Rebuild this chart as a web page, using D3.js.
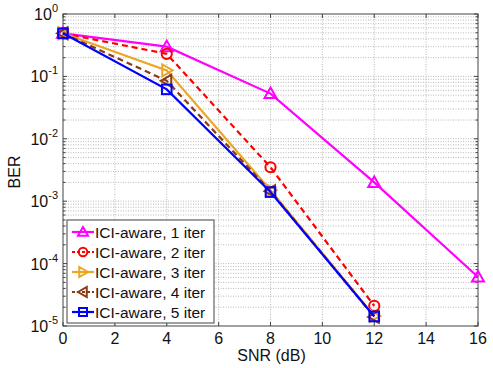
<!DOCTYPE html>
<html>
<head>
<meta charset="utf-8">
<script src="https://cdn.jsdelivr.net/npm/d3@7"></script>
<style>
  body { margin: 0; background: #fff; }
  text { font-family: "Liberation Sans", Arial, sans-serif; }
</style>
</head>
<body>
<div id="plot"></div>
<script>
// data
var snr = [0, 4, 8, 12, 16];
var iter1 = [0.49, 0.30, 0.053, 0.0020, 6.1e-5];
var iter2 = [0.49, 0.23, 0.0035, 2.1e-5];
var iter3 = [0.49, 0.125, 0.0015, 1.45e-5];
var iter4 = [0.49, 0.085, 0.00145, 1.4e-5];
var iter5 = [0.49, 0.062, 0.0014, 1.42e-5];
var names = ["ICI-aware, 1 iter", "ICI-aware, 2 iter", "ICI-aware, 3 iter", "ICI-aware, 4 iter", "ICI-aware, 5 iter"];
var xTicks = [0, 2, 4, 6, 8, 10, 12, 14, 16];
var yExps = [0, -1, -2, -3, -4, -5];

var series = [
  {name: names[0], vals: iter1, color: "#ff00ff", dash: null, marker: "up"},
  {name: names[1], vals: iter2, color: "#ff0000", dash: "6,4", marker: "circle"},
  {name: names[2], vals: iter3, color: "#eaa624", dash: null, marker: "right"},
  {name: names[3], vals: iter4, color: "#8b3a12", dash: "6,4", marker: "left"},
  {name: names[4], vals: iter5, color: "#0000ff", dash: null, marker: "square"}
];

var W = 493, H = 368;
var margin = {top: 14, right: 15, bottom: 42, left: 63};
var width = W - margin.left - margin.right,
    height = H - margin.top - margin.bottom;

var svg = d3.select("#plot").append("svg")
  .attr("width", W).attr("height", H);
var g = svg.append("g")
  .attr("transform", "translate(" + margin.left + "," + margin.top + ")");

var x = d3.scaleLinear().domain([0, 16]).range([0, width]);
var y = d3.scaleLog().domain([1e-5, 1]).range([height, 0]);

// grid
var minor = [];
for (var e = -5; e < 0; e++) for (var k = 2; k <= 9; k++) minor.push(k * Math.pow(10, e));
var grid = g.append("g").attr("stroke", "#a8a8a8").attr("stroke-width", 0.8).attr("stroke-dasharray", "1,1.5");
grid.selectAll(".gx").data(xTicks.slice(1, -1)).enter().append("line")
  .attr("x1", d => x(d)).attr("x2", d => x(d)).attr("y1", 0).attr("y2", height);
grid.selectAll(".gy").data(minor.concat(yExps.slice(1, -1).map(e => Math.pow(10, e)))).enter().append("line")
  .attr("x1", 0).attr("x2", width).attr("y1", d => y(d)).attr("y2", d => y(d));

// ticks on all sides
var ax = g.append("g").attr("stroke", "#444").attr("stroke-width", 1);
xTicks.forEach(function(t) {
  ax.append("line").attr("x1", x(t)).attr("x2", x(t)).attr("y1", height).attr("y2", height - 4);
  ax.append("line").attr("x1", x(t)).attr("x2", x(t)).attr("y1", 0).attr("y2", 4);
});
minor.forEach(function(v) {
  ax.append("line").attr("x1", 0).attr("x2", 2.5).attr("y1", y(v)).attr("y2", y(v));
  ax.append("line").attr("x1", width).attr("x2", width - 2.5).attr("y1", y(v)).attr("y2", y(v));
});
yExps.forEach(function(e) {
  var v = Math.pow(10, e);
  ax.append("line").attr("x1", 0).attr("x2", 4).attr("y1", y(v)).attr("y2", y(v));
  ax.append("line").attr("x1", width).attr("x2", width - 4).attr("y1", y(v)).attr("y2", y(v));
});
g.append("rect").attr("width", width).attr("height", height)
  .attr("fill", "none").attr("stroke", "#444").attr("stroke-width", 1);

// tick labels
g.selectAll(".xl").data(xTicks).enter().append("text")
  .attr("x", d => x(d)).attr("y", height + 18)
  .attr("text-anchor", "middle").attr("font-size", 16).attr("fill", "#111")
  .text(d => d);
yExps.forEach(function(e) {
  var t = g.append("text").attr("x", -5).attr("y", y(Math.pow(10, e)) + 6)
    .attr("text-anchor", "end").attr("font-size", 16).attr("fill", "#111");
  t.append("tspan").text("10");
  t.append("tspan").attr("dy", -8).attr("font-size", 11).text(e);
});

svg.append("text").attr("x", margin.left + width / 2 + 1).attr("y", 361)
  .attr("text-anchor", "middle").attr("font-size", 16).attr("fill", "#111").text("SNR (dB)");
svg.append("text").attr("transform", "translate(20," + (margin.top + height / 2 + 2) + ") rotate(-90)")
  .attr("text-anchor", "middle").attr("font-size", 16).attr("fill", "#111").text("BER");

function drawMarker(sel, type, color, s) {
  if (type === "circle") {
    sel.append("circle").attr("r", s * 0.85).attr("fill", "none").attr("stroke", color).attr("stroke-width", 2);
  } else if (type === "square") {
    sel.append("rect").attr("x", -s * 0.8).attr("y", -s * 0.8).attr("width", s * 1.6).attr("height", s * 1.6)
      .attr("fill", "none").attr("stroke", color).attr("stroke-width", 2);
  } else {
    var pts = {
      up: [[0, -s], [s, s * 0.75], [-s, s * 0.75]],
      right: [[s, 0], [-s * 0.75, -s], [-s * 0.75, s]],
      left: [[-s, 0], [s * 0.75, -s], [s * 0.75, s]]
    }[type];
    sel.append("polygon").attr("points", pts.map(p => p.join(",")).join(" "))
      .attr("fill", "none").attr("stroke", color).attr("stroke-width", 2);
  }
}

var line = d3.line().x(d => x(d[0])).y(d => y(d[1]));
series.forEach(function(s) {
  var pts = s.vals.map((v, i) => [snr[i], v]);
  g.append("path").datum(pts).attr("d", line)
    .attr("fill", "none").attr("stroke", s.color).attr("stroke-width", 2.2)
    .attr("stroke-dasharray", s.dash);
  pts.forEach(function(p) {
    var m = g.append("g").attr("transform", "translate(" + x(p[0]) + "," + y(p[1]) + ")");
    drawMarker(m, s.marker, s.color, 6);
  });
});

// legend
var lg = svg.append("g").attr("transform", "translate(67,220)");
lg.append("rect").attr("width", 147).attr("height", 103)
  .attr("fill", "#fff").attr("stroke", "#444").attr("stroke-width", 1);
series.forEach(function(s, i) {
  var row = lg.append("g").attr("transform", "translate(0," + (12 + i * 20) + ")");
  row.append("line").attr("x1", 5).attr("x2", 27).attr("y1", 0).attr("y2", 0)
    .attr("stroke", s.color).attr("stroke-width", 2.2).attr("stroke-dasharray", s.dash ? "3,2" : null);
  var m = row.append("g").attr("transform", "translate(16,0)");
  drawMarker(m, s.marker, s.color, 5);
  row.append("text").attr("x", 28).attr("y", 6).attr("font-size", 15.5).attr("fill", "#111").text(s.name);
});
</script>
</body>
</html>
